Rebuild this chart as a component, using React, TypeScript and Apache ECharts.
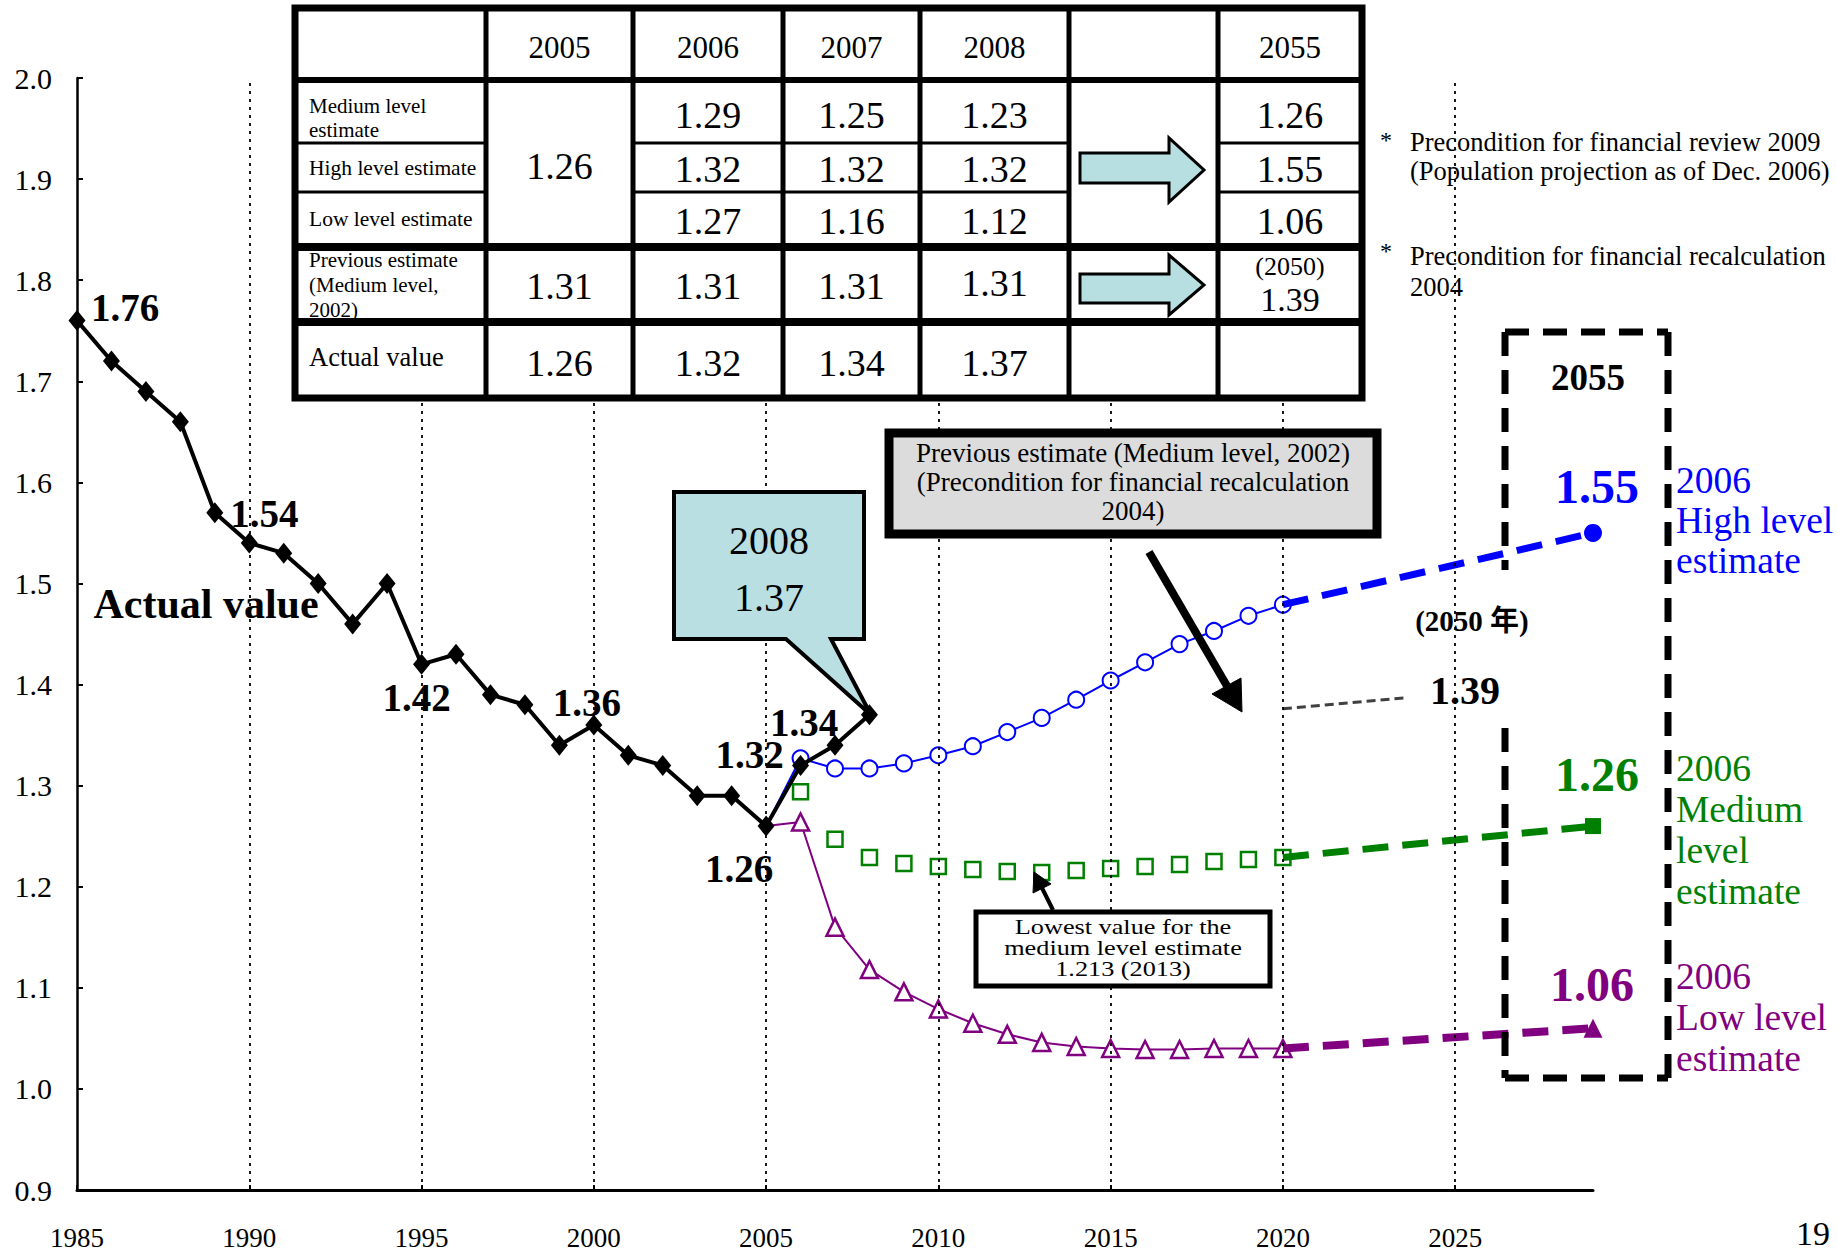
import React, { useEffect, useRef } from 'react';
import * as echarts from 'echarts';

const SERIF = "'Liberation Serif', 'Times New Roman', 'Noto Sans CJK JP', serif";
const BLUE = '#0000FF';
const GREEN = '#008000';
const PURPLE = '#800080';

// ---- data ----
const actualYears = [1985, 1986, 1987, 1988, 1989, 1990, 1991, 1992, 1993, 1994, 1995, 1996, 1997, 1998, 1999, 2000, 2001, 2002, 2003, 2004, 2005, 2006, 2007, 2008];
const actualValues = [1.76, 1.72, 1.69, 1.66, 1.57, 1.54, 1.53, 1.50, 1.46, 1.50, 1.42, 1.43, 1.39, 1.38, 1.34, 1.36, 1.33, 1.32, 1.29, 1.29, 1.26, 1.32, 1.34, 1.37];
// labelled actual points: year -> label offset [dx, dy]
const labelledYears = [1985, 1990, 1995, 2000, 2005, 2006, 2007];
const labelledOffsets = [[48, -13], [15, -30], [-5, 33], [-7, -22], [-27, 42], [-51, -11], [-31, -23]];

const projYears = [2006, 2007, 2008, 2009, 2010, 2011, 2012, 2013, 2014, 2015, 2016, 2017, 2018, 2019, 2020];
const highValues = [1.327, 1.317, 1.317, 1.322, 1.330, 1.339, 1.353, 1.367, 1.385, 1.404, 1.422, 1.440, 1.453, 1.468, 1.479];
const mediumValues = [1.294, 1.247, 1.229, 1.223, 1.220, 1.217, 1.215, 1.214, 1.216, 1.218, 1.220, 1.222, 1.225, 1.227, 1.229];
const lowValues = [1.264, 1.160, 1.118, 1.096, 1.079, 1.065, 1.054, 1.046, 1.042, 1.040, 1.039, 1.039, 1.040, 1.040, 1.040];
const projStartYear = 2005;
const projStartValue = 1.26;

// 2055 values, drawn at the right end of the (compressed) axis
const endPos = 2029;
const endHigh = 1.55;
const endMedium = 1.26;
const endLow = 1.06;

// previous estimate (2050) 1.39 connector
const prevLine = [[2020, 1.376], [2023.6, 1.387]];

const gridYears = [1990, 1995, 2000, 2005, 2010, 2015, 2020, 2025];

// ---- table texts ----
const tableHeader = ['2005', '2006', '2007', '2008', '', '2055'];
const tableRowLabels = ['Medium level\nestimate', 'High level estimate', 'Low level estimate', 'Previous estimate\n(Medium level,\n2002)', 'Actual value'];
const tableMedium = ['1.29', '1.25', '1.23'];
const tableHigh = ['1.32', '1.32', '1.32'];
const tableLow = ['1.27', '1.16', '1.12'];
const table2005Estimate = '1.26';
const table2055 = ['1.26', '1.55', '1.06'];
const tablePrevious = ['1.31', '1.31', '1.31', '1.31'];
const tablePrevious2055 = ['(2050)', '1.39'];
const tableActual = ['1.26', '1.32', '1.34', '1.37'];

function txt(text: string, x: number, y: number, size: number, o: any = {}) {
  const style: any = {
    text, x: o.scaleX ? 0 : x, y: o.scaleX ? 0 : y, fontSize: size, fontFamily: SERIF,
    fontWeight: o.bold ? 'bold' : 'normal',
    fill: o.color ?? '#000',
    textAlign: o.align ?? 'center', align: o.align ?? 'center',
    textVerticalAlign: o.valign ?? 'middle', verticalAlign: o.valign ?? 'middle',
  };
  if (o.lh) style.lineHeight = o.lh;
  const el: any = { type: 'text', z: o.z ?? 60, silent: true, style };
  if (o.scaleX) { el.x = x; el.y = y; el.scaleX = o.scaleX; }
  return el;
}
function seg(x1: number, y1: number, x2: number, y2: number, w: number, o: any = {}) {
  const style: any = { stroke: o.color ?? '#000', lineWidth: w, lineCap: o.cap ?? 'butt' };
  if (o.dash) style.lineDash = o.dash;
  return { type: 'line', z: o.z ?? 55, silent: true, shape: { x1, y1, x2, y2 }, style };
}
function poly(points: number[][], fill: string, stroke: string, w: number, z = 55) {
  return { type: 'polygon', z, silent: true, shape: { points }, style: { fill, stroke, lineWidth: w, lineJoin: 'miter' } };
}
function box(x: number, y: number, w: number, h: number, fill: string, stroke: string, lw: number, z = 54) {
  return { type: 'rect', z, silent: true, shape: { x, y, width: w, height: h }, style: { fill, stroke, lineWidth: lw } };
}

function buildGraphics() {
  const els: any[] = [];
  const colX = [295, 486, 633, 783, 920, 1069, 1218, 1362];
  const rowY = [8, 80, 143, 192, 247, 322, 398];
  const cx = (i: number) => (colX[i] + colX[i + 1]) / 2;
  // table
  els.push(box(colX[0], rowY[0], colX[7] - colX[0], rowY[6] - rowY[0], '#fff', '#000', 7, 50));
  for (let i = 1; i <= 6; i++) els.push(seg(colX[i], rowY[0], colX[i], rowY[6], 5));
  els.push(seg(colX[0], rowY[1], colX[7], rowY[1], 6));
  els.push(seg(colX[0], rowY[4], colX[7], rowY[4], 8));
  els.push(seg(colX[0], rowY[5], colX[7], rowY[5], 8));
  [rowY[2], rowY[3]].forEach((y) => {
    els.push(seg(colX[0], y, colX[1], y, 3));
    els.push(seg(colX[2], y, colX[5], y, 3));
    els.push(seg(colX[6], y, colX[7], y, 3));
  });
  tableHeader.forEach((t, i) => { if (t) els.push(txt(t, cx(i + 1), 47, 31)); });
  const labelX = 309;
  els.push(txt(tableRowLabels[0], labelX, 118, 21, { align: 'left', lh: 24 }));
  els.push(txt(tableRowLabels[1], labelX, 168, 21.5, { align: 'left' }));
  els.push(txt(tableRowLabels[2], labelX, 219, 21.5, { align: 'left' }));
  els.push(txt(tableRowLabels[3], labelX, 285, 21, { align: 'left', lh: 25 }));
  els.push(txt(tableRowLabels[4], labelX, 357, 26.5, { align: 'left' }));
  const V = 38;
  els.push(txt(table2005Estimate, cx(1), 166, V));
  tableMedium.forEach((t, i) => els.push(txt(t, cx(i + 2), 115, V)));
  tableHigh.forEach((t, i) => els.push(txt(t, cx(i + 2), 169, V)));
  tableLow.forEach((t, i) => els.push(txt(t, cx(i + 2), 221, V)));
  els.push(txt(table2055[0], cx(6), 115, V));
  els.push(txt(table2055[1], cx(6), 169, V));
  els.push(txt(table2055[2], cx(6), 221, V));
  tablePrevious.forEach((t, i) => els.push(txt(t, cx(i + 1), i === 3 ? 283 : 286, V)));
  els.push(txt(tablePrevious2055[0], cx(6), 266, 26));
  els.push(txt(tablePrevious2055[1], cx(6), 299.5, 34));
  tableActual.forEach((t, i) => els.push(txt(t, cx(i + 1), 363, V)));
  // table arrows
  const arrowFill = '#B7DFE2';
  els.push(poly([[1080, 153], [1169, 153], [1169, 138], [1204, 170], [1169, 202], [1169, 183], [1080, 183]], arrowFill, '#000', 3, 58));
  els.push(poly([[1080, 274], [1169, 274], [1169, 255], [1204, 285], [1169, 315], [1169, 303], [1080, 303]], arrowFill, '#000', 3, 58));

  // notes
  els.push(txt('*', 1386, 140, 24));
  els.push(txt('Precondition for financial review 2009\n(Population projection as of Dec. 2006)', 1410, 156, 26.5, { align: 'left', lh: 29 }));
  els.push(txt('*', 1386, 251, 24));
  els.push(txt('Precondition for financial recalculation\n2004', 1410, 271, 26.5, { align: 'left', lh: 31 }));

  // callout 2008 1.37
  els.push(poly([[674, 492], [864, 492], [864, 639], [831, 639], [871, 715], [786, 639], [674, 639]], '#B9DFE2', '#000', 4, 56));
  els.push(txt('2008', 769, 540, 40));
  els.push(txt('1.37', 769, 597, 40));

  // Actual value label
  els.push(txt('Actual value', 206, 604, 42, { bold: true }));

  // previous estimate box
  els.push(box(889, 433, 488, 101, '#DCDCDC', '#000', 9, 56));
  els.push(txt('Previous estimate (Medium level, 2002)\n(Precondition for financial recalculation\n2004)', 1133, 482, 27, { lh: 29 }));
  els.push(seg(1149, 552, 1227, 686, 8));
  els.push(poly([[1242, 712], [1212, 694], [1241, 678]], '#000', '#000', 1, 56));

  // lowest value box
  els.push(box(976, 912, 294, 74, '#fff', '#000', 5, 56));
  els.push(txt('Lowest value for the\nmedium level estimate\n1.213 (2013)', 1123, 948, 21, { lh: 21, scaleX: 1.25 }));
  els.push(seg(1053, 910, 1042, 888, 4));
  els.push(poly([[1034, 872], [1051, 884], [1033, 893]], '#000', '#000', 1, 56));

  // dashed rectangle around 2055
  const dash = [24, 14];
  els.push(seg(1505, 332, 1668, 332, 7, { dash }));
  els.push(seg(1668, 332, 1668, 1078, 7, { dash }));
  els.push(seg(1505, 1078, 1668, 1078, 7, { dash }));
  els.push(seg(1505, 332, 1505, 570, 7, { dash }));
  els.push(seg(1505, 728, 1505, 1078, 7, { dash }));
  els.push(txt('2055', 1588, 377, 37, { bold: true }));
  els.push(txt('1.55', 1597, 486, 48, { bold: true, color: BLUE }));
  els.push(txt('1.26', 1597, 774, 48, { bold: true, color: GREEN }));
  els.push(txt('1.06', 1592, 984, 48, { bold: true, color: PURPLE }));
  els.push(txt('(2050 年)', 1472, 621, 29, { bold: true }));
  els.push(txt('1.39', 1465, 690, 40, { bold: true }));
  els.push(txt('2006\nHigh level\nestimate', 1676, 520, 37.5, { align: 'left', color: BLUE, lh: 40 }));
  els.push(txt('2006\nMedium\nlevel\nestimate', 1676, 830, 37.5, { align: 'left', color: GREEN, lh: 41 }));
  els.push(txt('2006\nLow level\nestimate', 1676, 1017, 37.5, { align: 'left', color: PURPLE, lh: 41 }));

  // page number
  els.push(txt('19', 1796, 1233, 34, { align: 'left' }));
  return els;
}

function buildOption(): any {
  const actualData = actualYears.map((yr, i) => {
    const li = labelledYears.indexOf(yr);
    if (li < 0) return [yr, actualValues[i]];
    return {
      value: [yr, actualValues[i]],
      label: {
        show: true, position: 'inside', offset: labelledOffsets[li],
        formatter: actualValues[i].toFixed(2),
        fontFamily: SERIF, fontWeight: 'bold', fontSize: 39, color: '#000',
      },
    };
  });
  const withStart = (vals: number[]) => [
    { value: [projStartYear, projStartValue], symbol: 'none' },
    ...projYears.map((yr, i) => [yr, vals[i]]),
  ];
  const endLine = (from: number, to: number, symbol: string, size: number, color: string) => [
    { value: [2020, from], symbol: 'none' },
    { value: [endPos, to], symbol, symbolSize: size, itemStyle: { color } },
  ];
  return {
    animation: false,
    backgroundColor: '#fff',
    grid: { left: 77, top: 78, width: 1516, height: 1112, containLabel: false },
    xAxis: {
      type: 'value', min: 1985, max: endPos, interval: 5,
      axisLine: { onZero: false, lineStyle: { color: '#000', width: 3 } },
      axisTick: { inside: true, length: 5, lineStyle: { color: '#000', width: 2 } },
      axisLabel: {
        margin: 34, fontSize: 27, fontFamily: SERIF, color: '#000', showMaxLabel: false,
        formatter: (v: number) => (v % 5 === 0 ? String(v) : ''),
      },
      splitLine: { show: false },
    },
    yAxis: {
      type: 'value', min: 0.9, max: 2.0, interval: 0.1,
      axisLine: { show: true, lineStyle: { color: '#000', width: 2.5 } },
      axisTick: { show: true, inside: true, length: 6, lineStyle: { color: '#000', width: 2 } },
      axisLabel: { margin: 25, fontSize: 30, fontFamily: SERIF, color: '#000', formatter: (v: number) => v.toFixed(1) },
      splitLine: { show: false },
    },
    series: [
      {
        type: 'line', data: [[1985, 0.9]], symbol: 'none', lineStyle: { opacity: 0 }, silent: true, z: 1,
        markLine: {
          silent: true, symbol: ['none', 'none'], label: { show: false },
          lineStyle: { color: '#000', type: [3, 5], width: 1.8 },
          data: gridYears.map((x) => ({ xAxis: x })),
        },
      },
      {
        type: 'line', data: prevLine, symbol: 'none', z: 3,
        lineStyle: { color: '#404040', width: 3, type: [9, 5] },
      },
      {
        type: 'line', data: withStart(lowValues), symbol: 'triangle', symbolSize: 17, z: 3,
        lineStyle: { color: PURPLE, width: 2 },
        itemStyle: { color: '#fff', borderColor: PURPLE, borderWidth: 2.5 },
      },
      {
        type: 'line', data: projYears.map((yr, i) => [yr, mediumValues[i]]), symbol: 'rect', symbolSize: 15, z: 3,
        lineStyle: { width: 0, opacity: 0 },
        itemStyle: { color: '#fff', borderColor: GREEN, borderWidth: 2.5 },
      },
      {
        type: 'line', data: withStart(highValues), symbol: 'circle', symbolSize: 16, z: 3,
        lineStyle: { color: BLUE, width: 2 },
        itemStyle: { color: '#fff', borderColor: BLUE, borderWidth: 2 },
      },
      {
        type: 'line', data: endLine(highValues[highValues.length - 1], endHigh, 'circle', 18, BLUE), z: 4,
        lineStyle: { color: BLUE, width: 7, type: [26, 14] },
      },
      {
        type: 'line', data: endLine(mediumValues[mediumValues.length - 1], endMedium, 'rect', 16, GREEN), z: 4,
        lineStyle: { color: GREEN, width: 7, type: [26, 14] },
      },
      {
        type: 'line', data: endLine(lowValues[lowValues.length - 1], endLow, 'triangle', 19, PURPLE), z: 4,
        lineStyle: { color: PURPLE, width: 8, type: [26, 14] },
      },
      {
        type: 'line', data: actualData, symbol: 'diamond', symbolSize: [17, 21], z: 6,
        lineStyle: { color: '#000', width: 4 },
        itemStyle: { color: '#000' },
        label: { show: false },
      },
    ],
    graphic: { elements: buildGraphics() },
  };
}

export default function App() {
  const ref = useRef<HTMLDivElement>(null);
  useEffect(() => {
    const chart = echarts.init(ref.current!, null, { renderer: 'svg' });
    chart.setOption(buildOption());
    return () => chart.dispose();
  }, []);
  return (
    <div
      ref={ref}
      style={{ position: 'fixed', left: 0, top: 0, width: 1837, height: 1251, background: '#fff' }}
    />
  );
}
